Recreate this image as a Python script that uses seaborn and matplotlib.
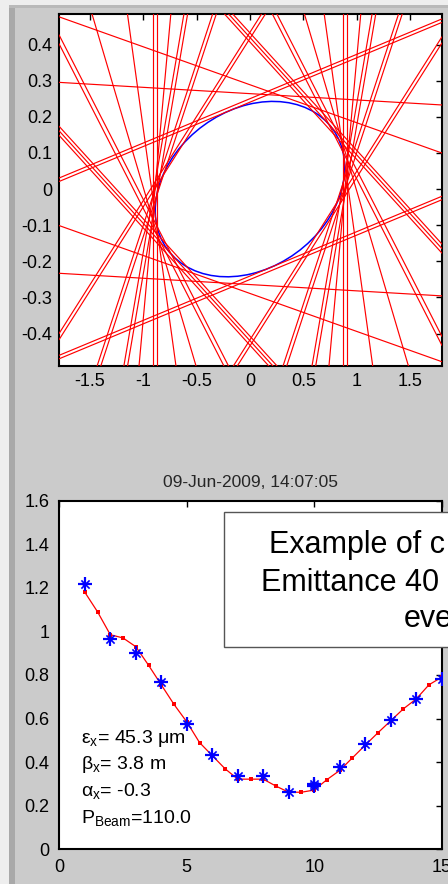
import numpy as np
import pandas as pd
import matplotlib
matplotlib.use("Agg")
import matplotlib.pyplot as plt
import seaborn as sns
from matplotlib.patches import Ellipse, Rectangle

# ---------------- data ----------------
# phase-space ellipse (top panel)
ellipse_center = (0.0, 0.0)
ellipse_width = 1.78
ellipse_height = 0.47
ellipse_angle = 4.1

# measurement lines: normal angle (deg, data space) and offset factors per bundle
line_normal_angles = [0, 89, 72, 84, 97, 115, 132, 150, 163, 60, 45, 25]
line_offset_factors = [[0.98, 1.02], [1.07], [0.97, 1.0, 1.03], [1.03], [1.0, 1.04],
                       [0.98, 1.02], [0.99, 1.03], [1.0, 1.04], [1.02], [0.98, 1.02],
                       [1.02], [1.0]]

top_xticks = [-1.5, -1, -0.5, 0, 0.5, 1, 1.5]
top_yticks = [-0.4, -0.3, -0.2, -0.1, 0, 0.1, 0.2, 0.3, 0.4]

# beam size measurements (bottom panel)
meas_index = [1, 2, 3, 4, 5, 6, 7, 8, 9, 10, 10, 11, 12, 13, 14, 15]
meas_size = [1.216, 0.964, 0.899, 0.769, 0.574, 0.431, 0.337, 0.337, 0.262,
             0.29, 0.30, 0.376, 0.482, 0.594, 0.691, 0.780]

fit_x = [1.0, 1.5, 2.0, 2.5, 3.0, 3.5, 4.0, 4.5, 5.0, 5.5, 6.0, 6.5, 7.0, 7.5, 8.0,
         8.5, 9.0, 9.5, 10.0, 10.5, 11.0, 11.5, 12.0, 12.5, 13.0, 13.5, 14.0, 14.5, 15.0]
fit_y = [1.18, 1.09, 0.985, 0.97, 0.93, 0.845, 0.755, 0.665, 0.585, 0.49, 0.43, 0.37,
         0.322, 0.322, 0.322, 0.29, 0.262, 0.262, 0.272, 0.32, 0.362, 0.42, 0.478,
         0.535, 0.59, 0.645, 0.69, 0.755, 0.79]

bottom_xticks = [0, 5, 10, 15]
bottom_yticks = [0, 0.2, 0.4, 0.6, 0.8, 1.0, 1.2, 1.4, 1.6]

title_text = "09-Jun-2009, 14:07:05"
param_lines = ["ε$_\\mathregular{x}$= 45.3 μm", "β$_\\mathregular{x}$= 3.8 m",
               "α$_\\mathregular{x}$= -0.3", "P$_\\mathregular{Beam}$=110.0"]
param_y = [0.486, 0.367, 0.241, 0.116]
box_lines = ["Example of c", "Emittance 40", "eve"]

# ---------------- style ----------------
sns.set_theme(style="white")
plt.rcParams["font.family"] = ["Liberation Sans", "DejaVu Sans"]
plt.rcParams["axes.unicode_minus"] = False
plt.rcParams["mathtext.fontset"] = "custom"
plt.rcParams["mathtext.rm"] = "Liberation Sans"

W, H = 448, 884
fig = plt.figure(figsize=(W / 100, H / 100), dpi=100)
fig.patch.set_facecolor("#eeeeee")

def fr(x0, y0, x1, y1):
    # pixel box (top-left origin) -> figure fraction rect
    return (x0 / W, 1 - y1 / H), (x1 - x0) / W, (y1 - y0) / H

for (x0, y0, x1, y1, c) in [(9, 5, 448, 884, "#cbcbcb"), (9, 5, 15, 884, "#a9a9a9"),
                            (9, 5, 448, 8, "#b9b9b9")]:
    xy, w, h = fr(x0, y0, x1, y1)
    fig.add_artist(Rectangle(xy, w, h, transform=fig.transFigure, facecolor=c,
                             edgecolor="none", zorder=-10))

def style_axes(ax):
    ax.set_facecolor("white")
    for s in ax.spines.values():
        s.set_color("black")
        s.set_linewidth(1.5)
        s.set_visible(True)
    ax.tick_params(direction="in", top=True, right=True, length=4, width=1,
                   labelsize=13, colors="black", pad=5)
    ax.grid(False)

fmt = matplotlib.ticker.FuncFormatter(lambda v, p: "%g" % round(v, 3))

# ---------------- top panel ----------------
ax1 = fig.add_axes([59 / W, 1 - 366 / H, 383 / W, 352 / H])
style_axes(ax1)
ax1.set_xlim(-1.79, 1.80)
ax1.set_ylim(-0.49, 0.485)
ax1.set_xticks(top_xticks)
ax1.set_yticks(top_yticks)
ax1.xaxis.set_major_formatter(fmt)
ax1.yaxis.set_major_formatter(fmt)

ell = Ellipse(ellipse_center, ellipse_width, ellipse_height, angle=ellipse_angle,
              facecolor="none", edgecolor="#0000ff", lw=1.1, zorder=2)
ax1.add_patch(ell)

th = np.deg2rad(ellipse_angle)
R = np.array([[np.cos(th), -np.sin(th)], [np.sin(th), np.cos(th)]])
A = R @ np.diag([(ellipse_width / 2) ** 2, (ellipse_height / 2) ** 2]) @ R.T
for ang, facs in zip(line_normal_angles, line_offset_factors):
    t = np.deg2rad(ang)
    n = np.array([np.cos(t), np.sin(t)])
    d = np.array([-np.sin(t), np.cos(t)])
    hsup = np.sqrt(n @ A @ n)
    for sgn in (1, -1):
        for f in facs:
            p0 = np.array(ellipse_center) + sgn * hsup * f * n
            ax1.axline(tuple(p0), tuple(p0 + d), color="#ff0000", lw=0.85, zorder=3)

# ---------------- bottom panel ----------------
ax2 = fig.add_axes([59.3 / W, 1 - 849.3 / H, 382.4 / W, 348.6 / H])
style_axes(ax2)
ax2.tick_params(pad=7)
fit_df = pd.DataFrame({"x": fit_x, "y": fit_y})
meas_df = pd.DataFrame({"i": meas_index, "s": meas_size})
sns.lineplot(data=fit_df, x="x", y="y", ax=ax2, color="#ff0000", lw=0.9,
             estimator=None, sort=False, marker="s", markersize=2.2,
             markeredgewidth=0, zorder=2)
sns.scatterplot(data=meas_df, x="i", y="s", ax=ax2, marker="+", s=110,
                color="#0000ff", linewidth=1.6, zorder=3)
sns.scatterplot(data=meas_df, x="i", y="s", ax=ax2, marker="x", s=35,
                color="#0000ff", linewidth=1.2, zorder=3)
sns.scatterplot(data=meas_df, x="i", y="s", ax=ax2, marker="o", s=12,
                color="#0000ff", edgecolor="none", zorder=4)
ax2.set_xlim(0, 15)
ax2.set_ylim(0, 1.6)
ax2.set_xticks(bottom_xticks)
ax2.set_yticks(bottom_yticks)
ax2.xaxis.set_major_formatter(fmt)
ax2.yaxis.set_major_formatter(fmt)
ax2.set_xlabel("")
ax2.set_ylabel("")
ax2.set_title(title_text, fontsize=12.5, pad=10)

for txt, yv in zip(param_lines, param_y):
    ax2.text(0.85, yv, txt, fontsize=14, va="baseline", ha="left", color="black")

# clipped text box overlay
xy, w, h = fr(224, 512, 470, 647)
fig.add_artist(Rectangle(xy, w, h, transform=fig.transFigure, facecolor="white",
                         edgecolor="#555555", lw=1.0, zorder=5))
for txt, (px, py) in zip(box_lines, [(269, 553), (261, 591), (404, 627)]):
    fig.text(px / W, 1 - py / H, txt, fontsize=22, va="baseline", ha="left",
             color="black", zorder=6)

fig.savefig("out.png", dpi=100)
